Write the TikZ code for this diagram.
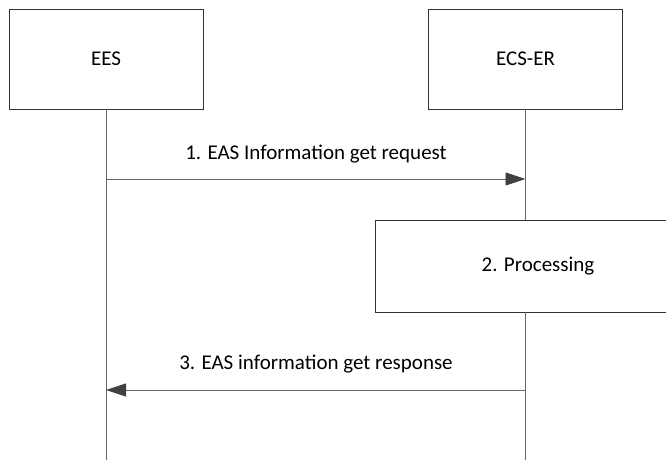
\documentclass[tikz,border=0pt]{standalone}
\usepackage{fontspec}
\setmainfont{Carlito}
\usepackage{tikz}
\usetikzlibrary{arrows.meta, positioning, calc}

\begin{document}
\begin{tikzpicture}[
  x=1pt, y=-1pt,
  font=\fontsize{21}{25}\selectfont,
  entite/.style={
    draw=black!80, line width=0.9pt, minimum width=194pt, minimum height=100pt,
    inner sep=0pt, align=center
  },
  action/.style={
    draw=black!80, line width=0.9pt, minimum width=326pt, minimum height=92pt,
    inner sep=0pt, align=center
  },
  vie/.style={draw=black!60, line width=0.9pt},
  message/.style={
    -{Triangle[length=20pt, width=13pt, fill=black!75, color=black!75]},
    line width=0.9pt, draw=black!60
  },
  libelle/.style={inner sep=0pt, text=black}
]
  \useasboundingbox (0,0) rectangle (666,460);

  % Entites
  \node[entite] (ees) at (106,59) {EES};
  \node[entite] (ecs) at (525.5,59) {ECS-ER};

  % Traitement
  \node[action] (proc) at (538,266) {2. Processing};

  % Lignes de vie
  \coordinate (eesbas) at (ees.south |- 0,460);
  \coordinate (ecsbas) at (ecs.south |- 0,460);
  \draw[vie] (ees.south) -- (eesbas);
  \draw[vie] (ecs.south) -- (ecs.south |- proc.north);
  \draw[vie] (ecs.south |- proc.south) -- (ecsbas);

  % Messages
  \coordinate (m1a) at (ees.south |- 0,179);
  \coordinate (m1b) at (ecs.south |- 0,179);
  \coordinate (m3a) at (ecs.south |- 0,390);
  \coordinate (m3b) at (ees.south |- 0,390);
  \draw[message] (m1a) -- (m1b);
  \draw[message] (m3a) -- (m3b);

  \node[libelle] (l1) at (316,154) {1. EAS Information get request};
  \node[libelle] (l3) at (316,364) {3. EAS information get response};

\end{tikzpicture}
\end{document}
